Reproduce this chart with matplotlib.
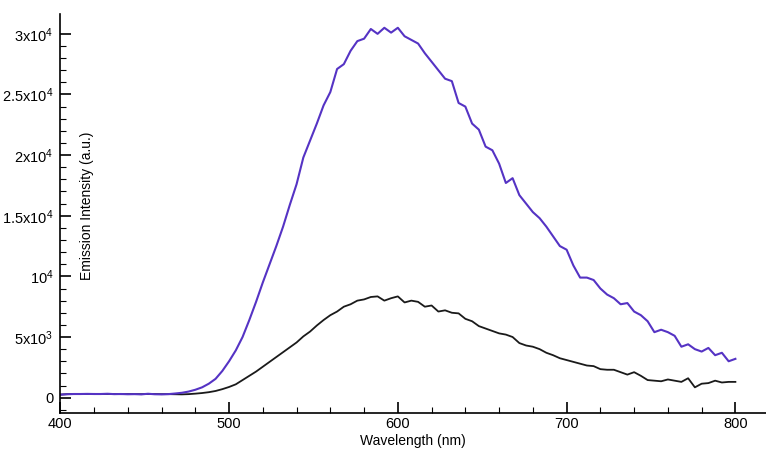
import matplotlib
matplotlib.use("Agg")
import matplotlib.pyplot as plt
import numpy as np

plt.rcParams['font.family'] = ['Liberation Sans', 'DejaVu Sans']
plt.rcParams['mathtext.fontset'] = 'custom'
plt.rcParams['mathtext.rm'] = 'Liberation Sans'
plt.rcParams['mathtext.it'] = 'Liberation Sans'

# wavelength grid (nm), 4 nm step
wavelength = np.arange(400, 801, 4)

purple = [250, 280, 300, 300, 310, 300, 300, 320, 290, 300,
          280, 290, 270, 320, 280, 270, 290, 340, 400, 500,
          650, 850, 1150, 1550, 2200, 3000, 3900, 5000, 6400, 7900,
          9500, 11000, 12500, 14100, 15900, 17600, 19800, 21200, 22600, 24100,
          25200, 27100, 27500, 28600, 29400, 29600, 30400, 30000, 30500, 30100,
          30500, 29800, 29500, 29200, 28400, 27700, 27000, 26300, 26100, 24300,
          24000, 22600, 22100, 20700, 20400, 19300, 17700, 18100, 16700, 16000,
          15300, 14800, 14100, 13300, 12500, 12200, 10900, 9900, 9900, 9700,
          9000, 8500, 8200, 7700, 7800, 7100, 6800, 6300, 5400, 5600,
          5400, 5100, 4200, 4400, 4000, 3800, 4100, 3500, 3700, 3000,
          3200]

black = [250, 290, 300, 300, 300, 310, 300, 300, 300, 290,
         300, 300, 290, 300, 300, 290, 290, 280, 270, 290,
         330, 380, 450, 550, 700, 880, 1100, 1450, 1800, 2150,
         2550, 2950, 3350, 3750, 4150, 4550, 5050, 5450, 5950, 6400,
         6800, 7100, 7500, 7700, 8000, 8100, 8300, 8350, 8000, 8200,
         8350, 7850, 8000, 7900, 7500, 7600, 7100, 7200, 7000, 6950,
         6500, 6300, 5900, 5700, 5500, 5300, 5200, 5000, 4500, 4300,
         4200, 4000, 3700, 3500, 3250, 3100, 2950, 2800, 2650, 2600,
         2350, 2300, 2300, 2100, 1900, 2100, 1800, 1450, 1400, 1350,
         1500, 1400, 1300, 1600, 850, 1150, 1200, 1400, 1250, 1300,
         1300]

ytick_vals = [0, 5000, 10000, 15000, 20000, 25000, 30000]
ytick_labels = ['0', r'5x10$^{3}$', r'10$^{4}$', r'1.5x10$^{4}$',
                r'2x10$^{4}$', r'2.5x10$^{4}$', r'3x10$^{4}$']
xtick_vals = [400, 500, 600, 700, 800]

fig = plt.figure(figsize=(7.66, 4.54), dpi=100)
ax = fig.add_axes([0.0787, 0.091, 0.921, 0.878])

ax.plot(wavelength, black, color='#1a1a1a', lw=1.3)
ax.plot(wavelength, purple, color='#5533c4', lw=1.5)

ax.set_xlim(400, 818)
ax.set_ylim(-1240, 31630)

ax.set_xticks(xtick_vals)
ax.set_xticks(np.arange(400, 801, 20), minor=True)
ax.set_yticks(ytick_vals)
ax.set_yticklabels(ytick_labels)
ax.set_yticks(np.arange(-1000, 30001, 1000), minor=True)

for s in ['top', 'right']:
    ax.spines[s].set_visible(False)
for s in ['left', 'bottom']:
    ax.spines[s].set_linewidth(1.2)

ax.tick_params(which='major', direction='in', length=8, width=1.2, labelsize=10.5)
ax.tick_params(axis='x', which='major', pad=3)
ax.tick_params(axis='y', which='major', pad=5)
ax.tick_params(which='minor', direction='in', length=4, width=0.8)

ax.set_xlabel('Wavelength (nm)', fontsize=10, labelpad=2)
ax.text(0.038, 0.52, 'Emission Intensity (a.u.)', transform=ax.transAxes,
        rotation=90, ha='center', va='center', fontsize=10)

fig.savefig('out.png', dpi=100)
